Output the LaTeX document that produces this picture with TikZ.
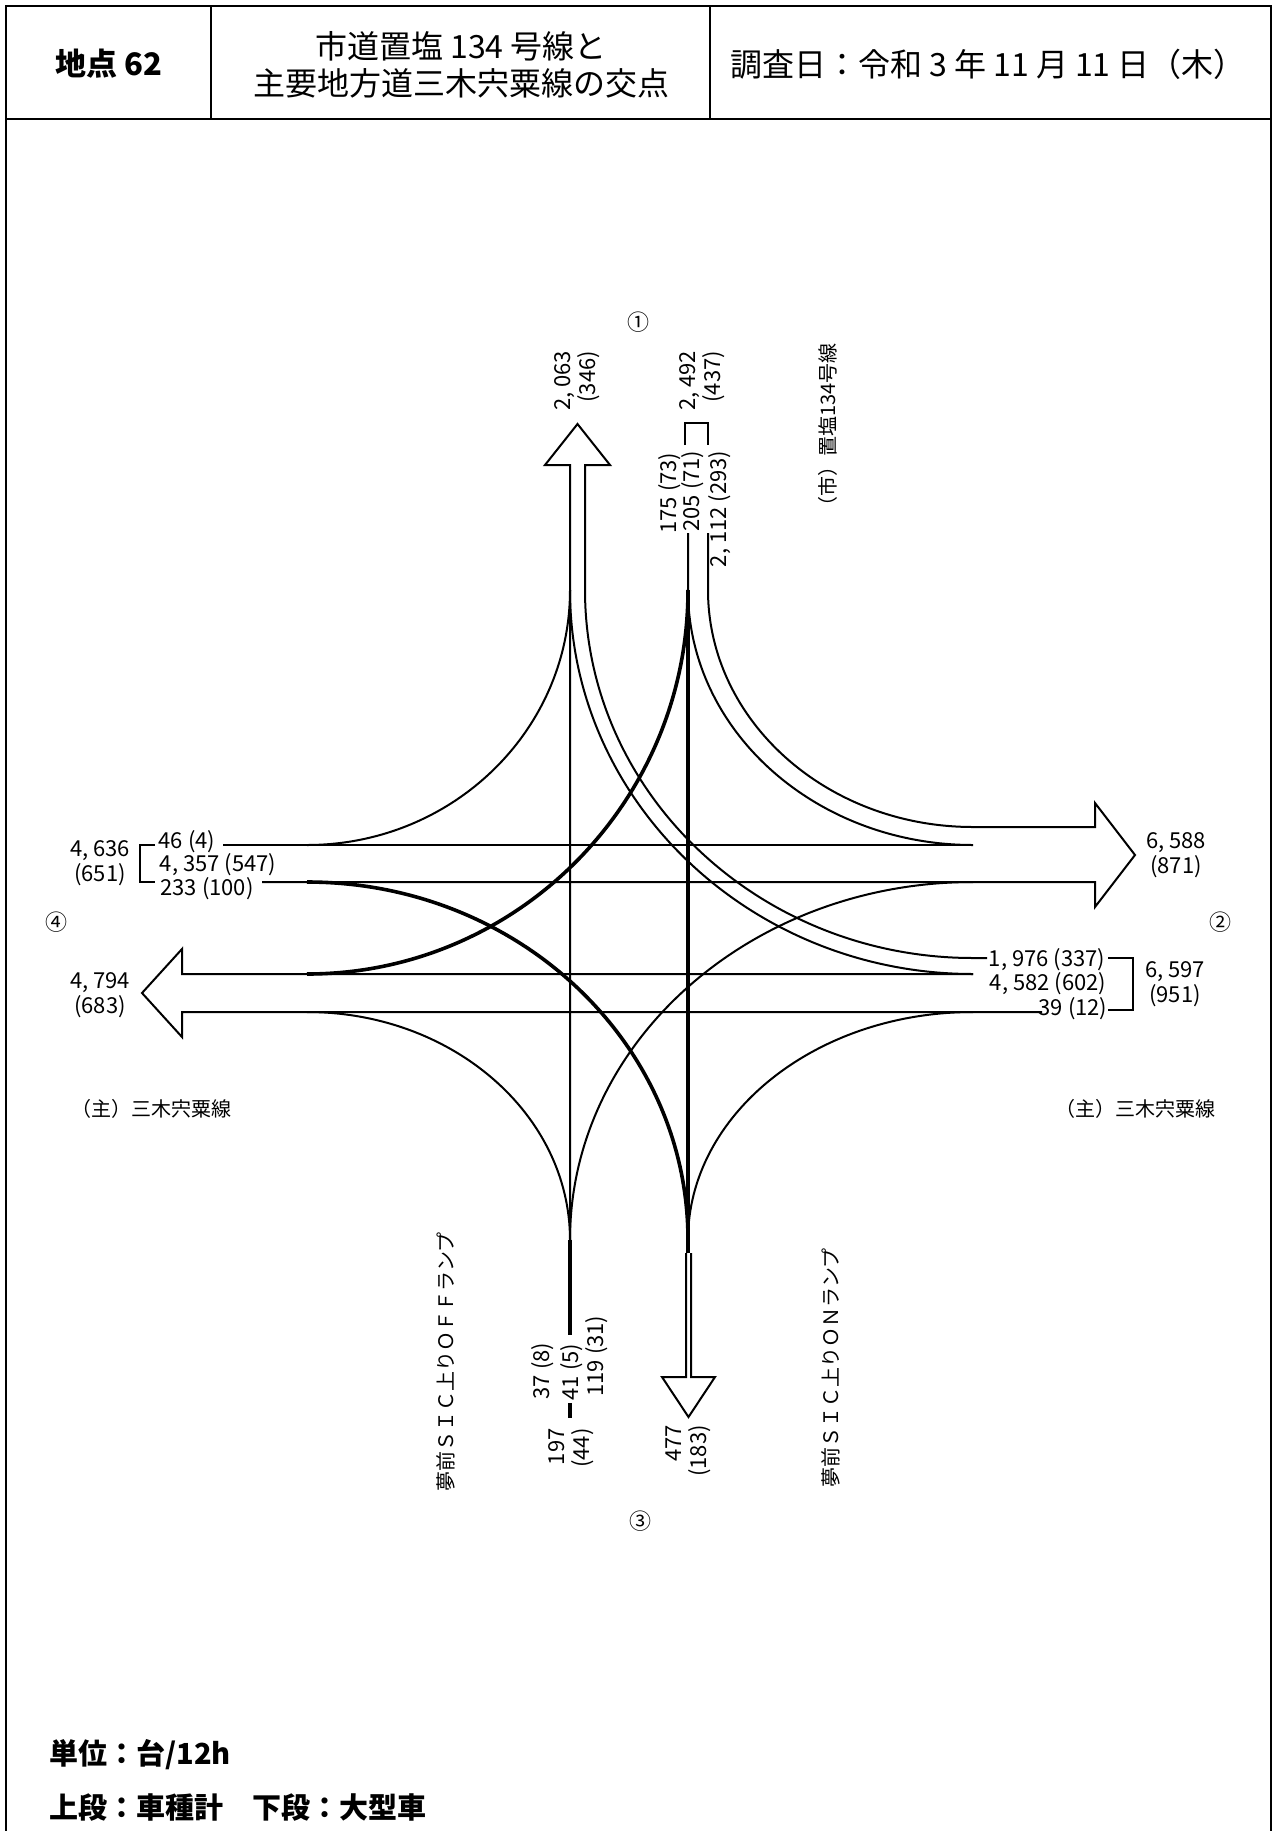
\documentclass[tikz,border=0pt]{standalone}
\usepackage{fontspec}
\setmainfont{Noto Sans CJK JP}
\begin{document}
\begin{tikzpicture}[
  x=0.5pt, y=-0.5pt,
  font=\fontsize{11}{12.5}\selectfont,
  frame/.style={line width=1.3pt},
  lane/.style={line width=1pt, line join=miter},
  heavy/.style={line width=1.8pt},
  num/.style={inner sep=0pt, align=center},
  vnum/.style={num, rotate=90, align=right},
  head/.style={inner sep=0pt, align=center, font=\fontsize{16}{18.5}\selectfont},
  road/.style={inner sep=0pt, font=\fontsize{10}{12}\selectfont},
  circ/.style={inner sep=0pt, font=\fontsize{11}{12}\selectfont},
  foot/.style={anchor=west, inner sep=0pt, font=\bfseries\fontsize{14.5}{16}\selectfont}
]
\useasboundingbox (0,0) rectangle (1276,1831);

% frame and header
\draw[frame] (6,1831) -- (6,6) -- (1271,6) -- (1271,1831);
\draw[frame] (6,119) -- (1271,119);
\draw[frame] (211,6) -- (211,119);
\draw[frame] (710,6) -- (710,119);

\node[head, font=\bfseries\fontsize{15.5}{18}\selectfont] (pt) at (109,64) {地点 62};
\node[head] (title) at (461,65) {市道置塩 134 号線と\\主要地方道三木宍粟線の交点};
\node[head] (date) at (988,64) {調査日：令和 3 年 11 月 11 日（木）};

% north out arrow, 1,976 lanes
\draw[lane] (570,1240) -- (570,465) -- (545,465) -- (577.5,424) -- (610,465) -- (585,465) -- (585,590)
  .. controls (585,793) and (759,958) .. (973,958) -- (987,958);
\draw[lane] (570,590) .. controls (570,802) and (751,974) .. (973,974);
% west out arrow
\draw[lane] (973,974) -- (182,974) -- (182,949) -- (142,993) -- (182,1037) -- (182,1012) -- (1042,1012);
% east out arrow
\draw[lane] (223,845) -- (973,845);
\draw[lane] (262,882) -- (1095,882) -- (1095,907) -- (1135,855) -- (1095,803) -- (1095,827) -- (973,827);
% 2,112
\draw[lane] (708,533) -- (708,590) .. controls (708,721) and (827,827) .. (973,827);
\draw[lane] (688,533) -- (688,590) .. controls (688,731) and (816,845) .. (973,845);
% 46, 39, 37, 119
\draw[lane] (307,845) .. controls (452,845) and (570,731) .. (570,590);
\draw[lane] (973,1012) .. controls (816,1012) and (688,1114) .. (688,1240);
\draw[lane] (570,1240) .. controls (570,1114) and (452,1012) .. (307,1012);
\draw[lane] (570,1240) .. controls (570,1042) and (751,882) .. (973,882);
% 205, 175, 233
\draw[heavy] (688,590) -- (688,1253);
\draw[heavy] (688,590) .. controls (688,802) and (517,974) .. (307,974);
\draw[heavy] (307,882) .. controls (517,882) and (688,1042) .. (688,1240);
\draw[heavy] (570,1240) -- (570,1335);
\draw[heavy] (570,1403) -- (570,1418);
% south out arrow
\draw[lane] (686,1253) -- (686,1377) -- (662,1377) -- (688.5,1417) -- (715,1377) -- (691,1377) -- (691,1253);

% brackets
\draw[lane] (155,845) -- (140,845) -- (140,882) -- (155,882);
\draw[lane] (1108,958) -- (1133,958) -- (1133,1010) -- (1108,1010);
\draw[lane] (685,445) -- (685,423) -- (708,423) -- (708,445);

% counts
\node[num] (w46) at (187,842) {46 (4)};
\node[num] (wth) at (218,865) {4, 357 (547)};
\node[num] (w233) at (207,889) {233 (100)};
\node[num] (win) at (100,863) {4, 636\\(651)};
\node[num] (wout) at (100,995) {4, 794\\(683)};
\node[num] (eout) at (1176,855) {6, 588\\(871)};
\node[num] (e1976) at (1047,960) {1, 976 (337)};
\node[num] (e4582) at (1048,984) {4, 582 (602)};
\node[num] (e39) at (1073,1009) {39 (12)};
\node[num] (ein) at (1175,984) {6, 597\\(951)};

\node[vnum] (nout) at (577,381) {2, 063\\(346)};
\node[vnum] (nin) at (702,381) {2, 492\\(437)};
\node[vnum] (n175) at (670,493) {175 (73)};
\node[vnum] (n205) at (693,491) {205 (71)};
\node[vnum] (n2112) at (720,509) {2, 112 (293)};

\node[vnum] (s37) at (543,1371) {37 (8)};
\node[vnum] (s41) at (572,1372) {41 (5)};
\node[vnum] (s119) at (597,1356) {119 (31)};
\node[vnum] (sin) at (571,1448) {197\\(44)};
\node[vnum] (sout) at (688,1451) {477\\(183)};

% approach numbers
\node[circ] (c1) at (638,322) {①};
\node[circ] (c2) at (1220,922) {②};
\node[circ] (c3) at (640,1521) {③};
\node[circ] (c4) at (57,922) {④};

% road names
\node[road] (wroad) at (151,1109) {（主）三木宍粟線};
\node[road] (eroad) at (1135,1109) {（主）三木宍粟線};
\node[road, rotate=90] (nroad) at (828,430) {（市）置塩134号線};
\node[road, rotate=90] (offr) at (446,1362) {夢前ＳＩＣ上りＯＦＦランプ};
\node[road, rotate=90] (onr) at (831,1368) {夢前ＳＩＣ上りＯＮランプ};

% legend
\node[foot] (unit) at (49,1755) {単位：台/12h};
\node[foot] (kind) at (49,1808) {上段：車種計　下段：大型車};

\end{tikzpicture}
\end{document}
